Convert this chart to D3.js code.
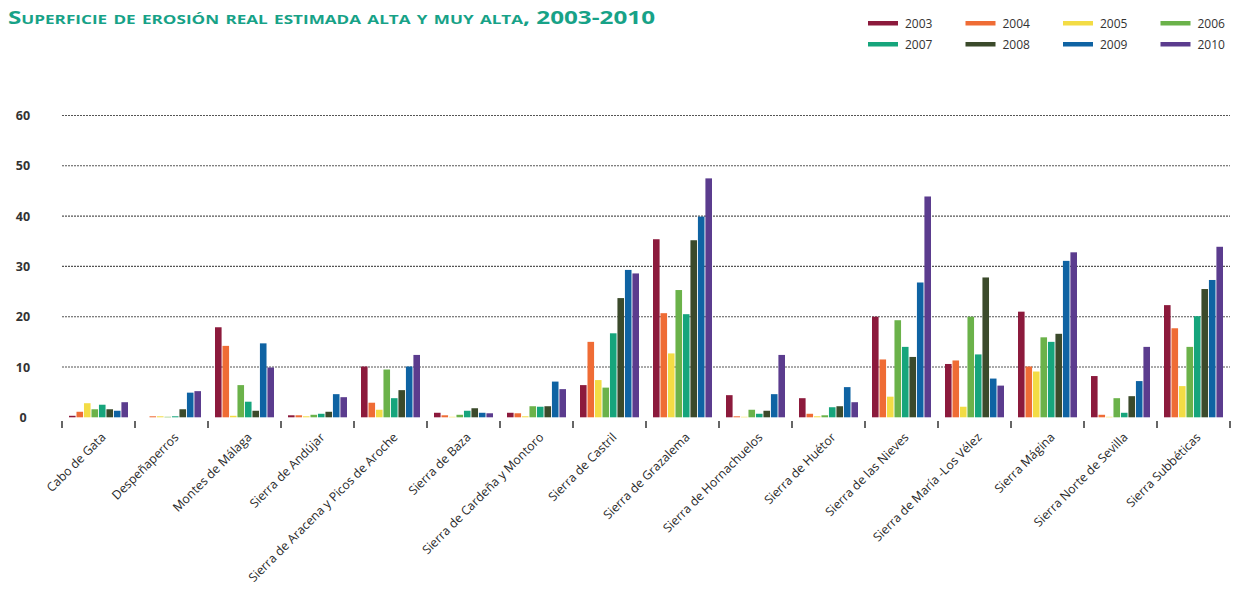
<!DOCTYPE html>
<html>
<head>
<meta charset="utf-8">
<script src="https://cdn.jsdelivr.net/npm/d3@7"></script>
<style>
  body { margin: 0; background: #fff; }
  svg { display: block; }
</style>
</head>
<body>
<script>
// categories (espacios naturales) and years
var categories = ["Cabo de Gata", "Despeñaperros", "Montes de Málaga", "Sierra de Andújar",
  "Sierra de Aracena y Picos de Aroche", "Sierra de Baza", "Sierra de Cardeña y Montoro",
  "Sierra de Castril", "Sierra de Grazalema", "Sierra de Hornachuelos", "Sierra de Huétor",
  "Sierra de las Nieves", "Sierra de María -Los Vélez", "Sierra Mágina",
  "Sierra Norte de Sevilla", "Sierra Subbéticas"];
var years = ["2003", "2004", "2005", "2006", "2007", "2008", "2009", "2010"];
var colors = ["#8c1a3c", "#ef6c35", "#f3dc45", "#6bb24a", "#16a57c", "#3b4a2b", "#0f63a3", "#5b3c8e"];

// one array per year, values in category order
var v2003 = [0.3, 0.0, 17.9, 0.4, 10.1, 0.9, 0.9, 6.4, 35.4, 4.4, 3.8, 20.0, 10.6, 21.0, 8.2, 22.3];
var v2004 = [1.1, 0.2, 14.2, 0.4, 2.9, 0.4, 0.8, 15.0, 20.7, 0.2, 0.7, 11.5, 11.3, 10.1, 0.5, 17.7];
var v2005 = [2.8, 0.2, 0.3, 0.2, 1.5, 0.1, 0.2, 7.4, 12.7, 0.1, 0.2, 4.1, 2.1, 9.1, 0.1, 6.2];
var v2006 = [1.6, 0.1, 6.4, 0.5, 9.5, 0.5, 2.2, 5.9, 25.3, 1.5, 0.4, 19.3, 20.0, 15.9, 3.8, 14.0];
var v2007 = [2.5, 0.2, 3.1, 0.7, 3.8, 1.3, 2.1, 16.7, 20.5, 0.7, 2.0, 14.0, 12.5, 15.0, 0.9, 20.1];
var v2008 = [1.6, 1.6, 1.3, 1.1, 5.4, 1.8, 2.2, 23.7, 35.2, 1.3, 2.2, 12.0, 27.8, 16.6, 4.2, 25.5];
var v2009 = [1.3, 4.9, 14.7, 4.6, 10.1, 0.9, 7.1, 29.3, 39.9, 4.6, 6.0, 26.8, 7.7, 31.1, 7.2, 27.3];
var v2010 = [3.0, 5.2, 9.9, 4.0, 12.4, 0.8, 5.6, 28.6, 47.5, 12.4, 3.0, 43.9, 6.3, 32.8, 14.0, 33.9];
var yTicks = [0, 10, 20, 30, 40, 50, 60];

var series = [v2003, v2004, v2005, v2006, v2007, v2008, v2009, v2010];

var width = 1238, height = 597;
var margin = {top: 116, left: 62, right: 8, bottom: 180};

var svg = d3.select("body").append("svg").attr("width", width).attr("height", height);

// title
svg.append("text")
  .attr("x", 8).attr("y", 24)
  .attr("fill", "#17a287")
  .attr("font-family", "Open Sans")
  .attr("font-weight", "bold")
  .attr("font-size", 17)
  .style("font-variant", "small-caps")
  .attr("textLength", 647)
  .attr("lengthAdjust", "spacingAndGlyphs")
  .text("Superficie de erosión real estimada alta y muy alta, 2003-2010");

// legend
var legend = svg.append("g");
years.forEach(function(y, i) {
  var col = i % 4, row = Math.floor(i / 4);
  var lg = legend.append("g").attr("transform", "translate(" + (868 + col * 97.5) + "," + (21 + row * 21) + ")");
  lg.append("rect").attr("width", 30).attr("height", 4.5).attr("fill", colors[i]);
  lg.append("text").attr("x", 37).attr("y", 6.5)
    .attr("font-family", "Open Sans").attr("font-size", 12).attr("fill", "#333")
    .text(y);
});

// scales
var x0 = d3.scaleBand().domain(categories).range([margin.left, 1230]);
var x1 = d3.scaleBand().domain(years).range([7, x0.bandwidth() - 7]).paddingInner(0.12);
var y = d3.scaleLinear().domain([0, 60]).range([417.3, 115.5]);

// gridlines
svg.append("g").selectAll("line")
  .data(yTicks.filter(function(t) { return t > 0; }))
  .enter().append("line")
  .attr("x1", margin.left).attr("x2", 1230)
  .attr("y1", function(d) { return y(d); }).attr("y2", function(d) { return y(d); })
  .attr("stroke", "#555").attr("stroke-width", 1.1)
  .attr("stroke-dasharray", "2,1");

// y labels
var yAxis = d3.axisLeft(y).tickValues(yTicks).tickSize(0).tickPadding(0);
var ya = svg.append("g").attr("transform", "translate(23,0)").call(yAxis);
ya.select(".domain").remove();
ya.selectAll("text")
  .attr("text-anchor", "middle")
  .attr("font-family", "Open Sans").attr("font-weight", "bold")
  .attr("font-size", 12.5).attr("fill", "#333");

// bars
var groups = svg.append("g").selectAll("g")
  .data(categories)
  .enter().append("g")
  .attr("transform", function(d) { return "translate(" + x0(d) + ",0)"; });

groups.selectAll("rect")
  .data(function(d, ci) { return years.map(function(yr, yi) { return {year: yr, i: yi, v: series[yi][ci]}; }); })
  .enter().append("rect")
  .attr("x", function(d) { return x1(d.year); })
  .attr("width", x1.bandwidth())
  .attr("y", function(d) { return y(d.v); })
  .attr("height", function(d) { return y(0) - y(d.v); })
  .attr("fill", function(d) { return colors[d.i]; });

// ticks at category boundaries
var bounds = categories.map(function(c) { return x0(c); }).concat([1230]);
svg.append("g").selectAll("line")
  .data(bounds)
  .enter().append("line")
  .attr("x1", function(d) { return d; }).attr("x2", function(d) { return d; })
  .attr("y1", 421).attr("y2", 428)
  .attr("stroke", "#333").attr("stroke-width", 1.5);

// category labels
svg.append("g").selectAll("text")
  .data(categories)
  .enter().append("text")
  .attr("transform", function(d) {
    return "translate(" + (x0(d) + x0.bandwidth() / 2 + 8) + ",438) rotate(-45)";
  })
  .attr("text-anchor", "end")
  .attr("font-family", "Open Sans").attr("font-size", 12.3).attr("fill", "#2a2a2a")
  .text(function(d) { return d; });
</script>
</body>
</html>
